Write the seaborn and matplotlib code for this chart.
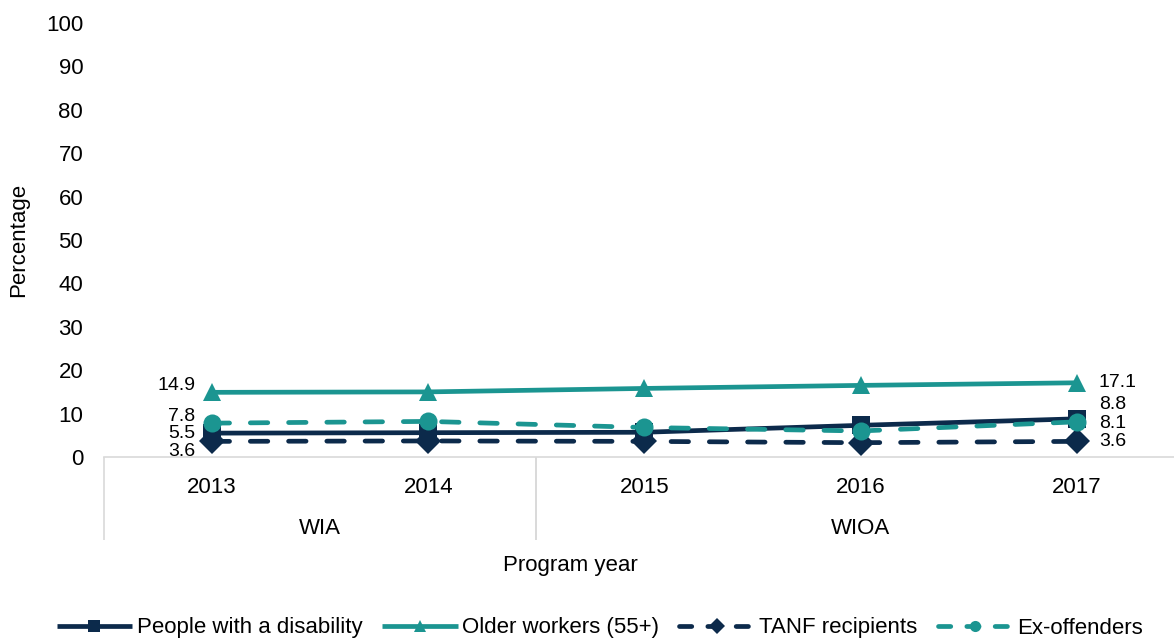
import numpy as np
import pandas as pd
import matplotlib.pyplot as plt
import seaborn as sns

# ── Data ────────────────────────────────────────────────
years = ['2013', '2014', '2015', '2016', '2017']
programs = ['WIA', 'WIOA']
program_span = [(0, 1), (2, 4)]

disability = [5.5, 5.6, 5.7, 7.3, 8.8]
older_workers = [14.9, 15.0, 15.8, 16.5, 17.1]
tanf = [3.6, 3.7, 3.6, 3.3, 3.6]
ex_offenders = [7.8, 8.2, 6.8, 6.0, 8.1]

series_names = ['People with a disability', 'Older workers (55+)',
                'TANF recipients', 'Ex-offenders']
series_values = [disability, older_workers, tanf, ex_offenders]

# long-form table for seaborn
df = pd.DataFrame({
    'year_idx': np.tile(np.arange(len(years)), len(series_names)),
    'value': np.concatenate(series_values),
    'group': np.repeat(series_names, len(years)),
})

# ── Style ───────────────────────────────────────────────
sns.set_style('white')
plt.rcParams['font.family'] = ['Liberation Sans', 'DejaVu Sans']
plt.rcParams['text.color'] = 'black'
plt.rcParams['axes.labelcolor'] = 'black'
plt.rcParams['xtick.color'] = 'black'
plt.rcParams['ytick.color'] = 'black'
plt.rcParams['lines.dash_capstyle'] = 'round'
plt.rcParams['lines.solid_capstyle'] = 'butt'

navy = '#0c2a4b'
teal = '#1b9591'
palette = {series_names[0]: navy, series_names[1]: teal,
           series_names[2]: navy, series_names[3]: teal}
markers = {series_names[0]: 's', series_names[1]: '^',
           series_names[2]: 'D', series_names[3]: 'o'}
dashes = {series_names[0]: '', series_names[1]: '',
          series_names[2]: (3.7, 4.4), series_names[3]: (3.7, 4.4)}

FS = 16
W, H = 1174, 639
fig = plt.figure(figsize=(W / 100, H / 100), dpi=100)
ax = fig.add_axes([104 / W, 1 - 457 / H, (W - 104) / W, 434 / H])

sns.lineplot(data=df, x='year_idx', y='value', hue='group', style='group',
             palette=palette, markers=markers, dashes=dashes,
             hue_order=series_names, style_order=series_names,
             linewidth=3.4, markersize=13, markeredgewidth=0, ax=ax)

ax.set_xlim(-0.5, 4.45)
ax.set_ylim(0, 100)
ax.set_yticks(range(0, 101, 10))
ax.tick_params(axis='y', labelsize=FS, length=0, pad=15)
ax.set_xticks([])
ax.set_xlabel('')
ax.set_ylabel('Percentage', fontsize=FS, labelpad=12)
for s in ['top', 'right', 'left']:
    ax.spines[s].set_visible(False)
ax.spines['bottom'].set_color('#d9d9d9')
ax.spines['bottom'].set_linewidth(1.2)

# ── Grouped category axis ───────────────────────────────
trans = ax.get_xaxis_transform()
for i, y in enumerate(years):
    ax.text(i, -0.07, y, transform=trans, ha='center', va='center', fontsize=FS)
for name, (a, b) in zip(programs, program_span):
    ax.text((a + b) / 2, -0.165, name, transform=trans, ha='center',
            va='center', fontsize=FS)
for a, b in program_span:
    for xx in (a - 0.5, b + 0.5):
        ax.plot([xx, xx], [0, -0.192], transform=trans, color='#d9d9d9',
                lw=1.2, clip_on=False)
fig.text(570 / W, 1 - 566 / H, 'Program year', ha='center', va='center',
         fontsize=FS)

# ── Data labels (first and last year) ───────────────────
left_dy = [0, 5, -7, 5]
right_dy = [10, 0, 0, -1]
for vals, ldy, rdy in zip(series_values, left_dy, right_dy):
    ax.annotate(f'{vals[0]:.1f}', (0, vals[0]), xytext=(-12, ldy),
                textcoords='offset points', ha='right', va='center', fontsize=14)
    ax.annotate(f'{vals[-1]:.1f}', (4, vals[-1]), xytext=(16, rdy),
                textcoords='offset points', ha='left', va='center', fontsize=14)

# ── Legend ──────────────────────────────────────────────
handles, labels = ax.get_legend_handles_labels()
ax.get_legend().remove()
for h in handles:
    h.set_markersize(8)
    if h.get_linestyle() not in ('-', 'solid'):
        h.set_dashes((2.6, 3.4))
fig.legend(handles, labels, loc='center', bbox_to_anchor=(600 / W, 1 - 628 / H),
           ncol=4, frameon=False, fontsize=FS, handlelength=3.4,
           handletextpad=0.2, columnspacing=0.9)

plt.savefig('out.png', dpi=100)
